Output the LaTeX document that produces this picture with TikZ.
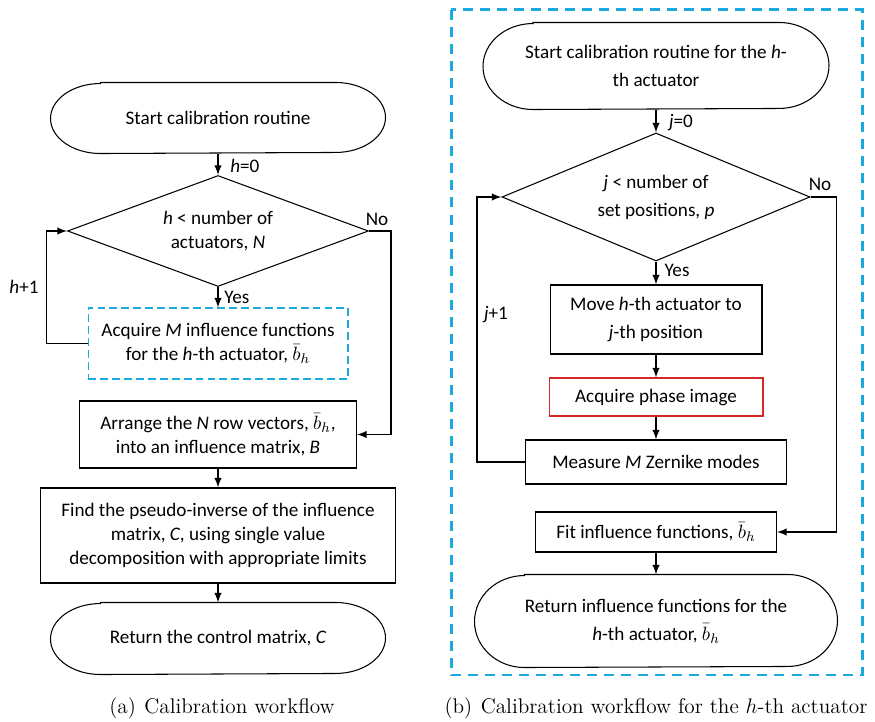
\documentclass[tikz,border=0pt]{standalone}
\usepackage{amssymb,amsmath}
\usepackage{fontspec}
\newfontfamily\diagfont{Carlito}
\usetikzlibrary{positioning,shapes,arrows,calc}
\usetikzlibrary{arrows.meta}

\definecolor{frameblue}{RGB}{27,170,222}
\definecolor{boxred}{RGB}{215,40,40}

\begin{document}
\begin{tikzpicture}[x=0.02cm,y=-0.02cm,line width=0.6pt,
	every node/.style={font=\diagfont\fontsize{10.9}{13.6}\selectfont},
	process/.style={draw,rectangle,align=center,inner sep=0pt},
	term/.style={align=center,inner sep=0pt},
	decision/.style={draw,diamond,align=center,inner sep=0pt,shape aspect=2.7},
	flow/.style={-latex,line width=0.9pt},
	label/.style={inner sep=1pt},
	caption/.style={font=\fontsize{12.1}{14}\selectfont},
	roomy/.style={font=\diagfont\fontsize{10.9}{15.9}\selectfont}]
		\useasboundingbox (0,0) rectangle (875,722);
		\def\termshape#1#2{\draw ([xshift=1cm]#1.north west) -- ([xshift=-1cm]#1.north east) arc[start angle=90,end angle=-90,x radius=1cm,y radius=#2] -- ([xshift=1cm]#1.south west) arc[start angle=270,end angle=90,x radius=1cm,y radius=#2] -- cycle;}
		
		% (a) calibration workflow
		\node[term,minimum width=6.68cm,minimum height=1.4cm] (start) at (218,118) {Start calibration routine};
		\termshape{start}{0.7cm}
		\node[decision,minimum width=6.02cm,minimum height=2.22cm] (count) at (218,231) {\textit{h} < number of\\actuators, \textit{N}};
		\node[process,draw=frameblue,dash pattern=on 4.5pt off 2.3pt,minimum width=5.2cm,minimum height=1.42cm] (acquire) at (218,343.5) {Acquire \textit{M} influence functions\\for the \textit{h}-th actuator, $\bar{b}_h$};
		\node[process,minimum width=5.54cm,minimum height=1.34cm] (arrange) at (218,434.5) {Arrange the \textit{N} row vectors, $\bar{b}_h$,\\into an influence matrix, \textit{B}};
		\node[process,minimum width=7.1cm,minimum height=1.9cm] (pinv) at (218,535.5) {Find the pseudo-inverse of the influence\\matrix, \textit{C}, using single value\\decomposition with appropriate limits};
		\node[term,minimum width=6.68cm,minimum height=1.42cm] (return) at (218,638.5) {Return the control matrix, \textit{C}};
		\termshape{return}{0.71cm}
		
		\draw[flow] (start) -- (count);
		\draw[flow] (count) -- (acquire);
		\draw[flow] (acquire.west) -- ++(-41,0) |- (count.west);
		\draw[flow] (count.east) -- ++(22,0) |- (arrange.east);
		\draw[flow] (arrange) -- (pinv);
		\draw[flow] (pinv) -- (return);
		
		\node[label,anchor=west] (hzero) at (228,166) {\textit{h}=0};
		\node[label,anchor=west] (yesa) at (222,297) {Yes};
		\node[label] (noa) at (377,219) {No};
		\node[label] (hnext) at (24,287) {\textit{h}+1};
		\node[caption] (capa) at (222,708) {(a)\hspace{0.4em}Calibration workflow};
		
		% (b) calibration workflow for one actuator
		\draw[frameblue,line width=1.7pt,dash pattern=on 5.7pt off 4pt] (451,10) rectangle (862,675);
		\node[term,roomy,minimum width=6.9cm,minimum height=1.72cm] (startb) at (656,66) {Start calibration routine for the \textit{h}-\\th actuator};
		\termshape{startb}{0.86cm}
		\node[decision,roomy,minimum width=6.16cm,minimum height=2.56cm] (posn) at (656,197) {\textit{j} < number of\\set positions, \textit{p}};
		\node[process,roomy,minimum width=4.24cm,minimum height=1.38cm] (move) at (656,319.5) {Move \textit{h}-th actuator to\\\textit{j}-th position};
		\node[process,draw=boxred,minimum width=4.28cm,minimum height=0.76cm] (phase) at (656,397) {Acquire phase image};
		\node[process,minimum width=5.22cm,minimum height=0.88cm] (zern) at (656,462) {Measure \textit{M} Zernike modes};
		\node[process,minimum width=4.82cm,minimum height=0.8cm] (fit) at (656,532) {Fit influence functions, $\bar{b}_h$};
		\node[term,roomy,minimum width=7.24cm,minimum height=1.84cm] (returnb) at (656,621) {Return influence functions for the\\\textit{h}-th actuator, $\bar{b}_h$};
		\termshape{returnb}{0.92cm}
		
		\draw[flow] (startb) -- (posn);
		\draw[flow] (posn) -- (move);
		\draw[flow] (move) -- (phase);
		\draw[flow] (phase) -- (zern);
		\draw[flow] (zern.west) -- ++(-48,0) |- (posn.west);
		\draw[flow] (posn.east) -- ++(26,0) |- (fit.east);
		\draw[flow] (fit) -- (returnb);
		
		\node[label] (jzero) at (681,123) {\textit{j}=0};
		\node[label] (yesb) at (677,270) {Yes};
		\node[label] (nob) at (820,184) {No};
		\node[label] (jnext) at (496,315) {\textit{j}+1};
		\node[caption] (capb) at (656,708) {(b)\hspace{0.4em}Calibration workflow for the $h$-th actuator};
	\end{tikzpicture}
\end{document}
